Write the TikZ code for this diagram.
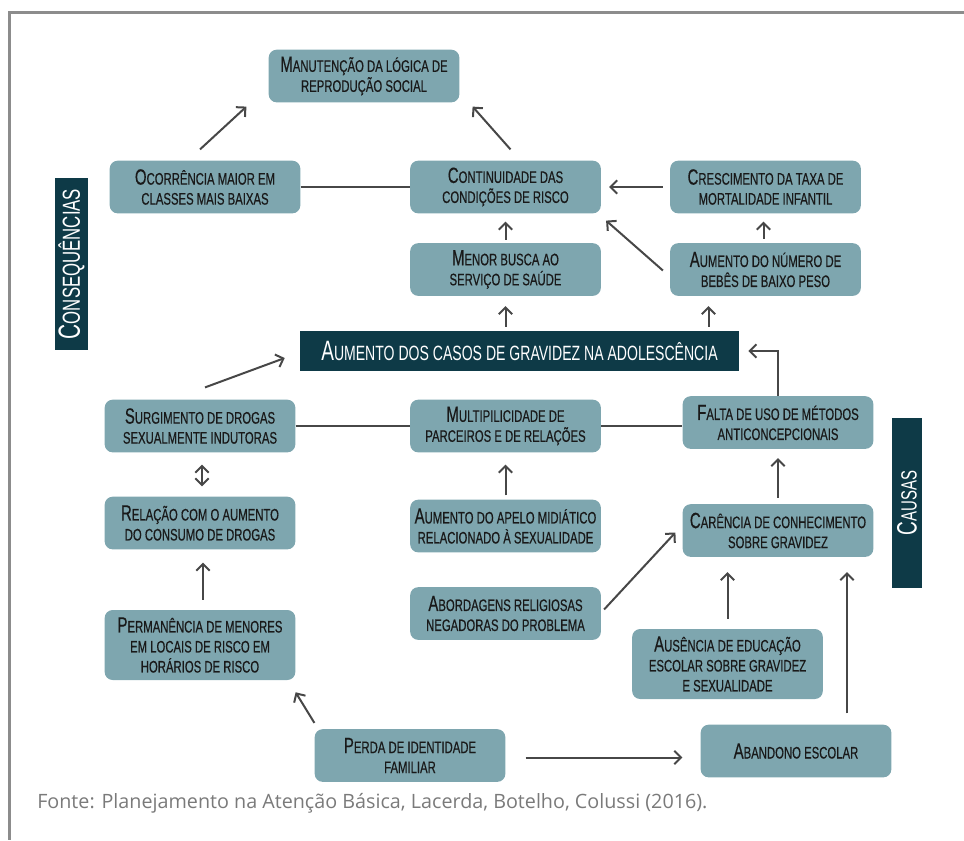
\documentclass[tikz,border=0pt]{standalone}
\usepackage{fontspec}
\usetikzlibrary{arrows.meta,calc}
\newfontfamily\boxfont[FakeStretch=0.68,FakeBold=0.4]{Liberation Sans}
\newfontfamily\darkfont[FakeStretch=0.68]{Liberation Sans}
\newfontfamily\notefont{Open Sans}
\definecolor{boxc}{HTML}{7EA6AF}
\definecolor{darkc}{HTML}{0E3A47}
\definecolor{linec}{HTML}{474747}
\definecolor{framec}{HTML}{8C8C8C}
\definecolor{notec}{HTML}{7A7A7A}
\newcommand\bc[1]{{\fontsize{16.5}{15}\selectfont #1}}
\newcommand\bbc[1]{{\fontsize{21}{21}\selectfont #1}}
\newcommand\cbc[1]{{\fontsize{23}{23}\selectfont #1}}
\begin{document}
\begin{tikzpicture}[x=0.75pt,y=-0.75pt,
  box/.style={rectangle,rounded corners=6pt,fill=boxc,inner sep=0pt,minimum width=143pt,minimum height=39.5pt,align=center,text=black!90,font=\boxfont\fontsize{12.5}{15}\selectfont},
  tall/.style={box,minimum height=52.5pt},
  darkbox/.style={rectangle,fill=darkc,text=white,inner sep=0pt,align=center},
  arr/.style={draw=linec,line width=1.5pt,-{Straight Barb[length=5pt,width=10pt]}},
  arrtwo/.style={draw=linec,line width=1.5pt,{Straight Barb[length=5pt,width=10pt]}-{Straight Barb[length=5pt,width=10pt]}},
  link/.style={draw=linec,line width=1.5pt}]
\useasboundingbox (0,0) rectangle (964,840);
\draw[framec,line width=2.25pt] (964,12) -- (9,12) -- (9,840);

% nodes
\node[box] (man) at (364,76) {\bc{M}ANUTENÇÃO DA LÓGICA DE\\REPRODUÇÃO SOCIAL};
\node[box] (ocr) at (205,187) {\bc{O}CORRÊNCIA MAIOR EM\\CLASSES MAIS BAIXAS};
\node[box] (con) at (505.5,187) {\bc{C}ONTINUIDADE DAS\\CONDIÇÕES DE RISCO};
\node[box] (cre) at (765.5,187) {\bc{C}RESCIMENTO DA TAXA DE\\MORTALIDADE INFANTIL};
\node[box] (men) at (505.5,269.5) {\bc{M}ENOR BUSCA AO\\SERVIÇO DE SAÚDE};
\node[box] (beb) at (765.5,269.5) {\bc{A}UMENTO DO NÚMERO DE\\BEBÊS DE BAIXO PESO};
\node[darkbox,minimum width=329.25pt,minimum height=30pt,font=\darkfont\fontsize{15.5}{18}\selectfont] (aum) at (519.5,351) {\bbc{A}UMENTO DOS CASOS DE GRAVIDEZ NA ADOLESCÊNCIA};
\node[box] (sur) at (200,426) {\bc{S}URGIMENTO DE DROGAS\\SEXUALMENTE INDUTORAS};
\node[box] (mul) at (505.5,426) {\bc{M}ULTIPILICIDADE DE\\PARCEIROS E DE RELAÇÕES};
\node[box] (fal) at (778,422.5) {\bc{F}ALTA DE USO DE MÉTODOS\\ANTICONCEPCIONAIS};
\node[box] (rel) at (200,523) {\bc{R}ELAÇÃO COM O AUMENTO\\DO CONSUMO DE DROGAS};
\node[box] (ape) at (505.5,526) {\bc{A}UMENTO DO APELO MIDIÁTICO\\RELACIONADO À SEXUALIDADE};
\node[box] (car) at (778,530.5) {\bc{C}ARÊNCIA DE CONHECIMENTO\\SOBRE GRAVIDEZ};
\node[box] (abo) at (505.5,613.5) {\bc{A}BORDAGENS RELIGIOSAS\\NEGADORAS DO PROBLEMA};
\node[tall] (per) at (200,645) {\bc{P}ERMANÊNCIA DE MENORES\\EM LOCAIS DE RISCO EM\\HORÁRIOS DE RISCO};
\node[tall] (aus) at (727.5,664) {\bc{A}USÊNCIA DE EDUCAÇÃO\\ESCOLAR SOBRE GRAVIDEZ\\E SEXUALIDADE};
\node[box] (pda) at (410,755.5) {\bc{P}ERDA DE IDENTIDADE\\FAMILIAR};
\node[box] (aba) at (796,751) {\bc{A}BANDONO ESCOLAR};

\node[darkbox,rotate=90,minimum width=129pt,minimum height=24.75pt,font=\darkfont\fontsize{18.5}{18}\selectfont] (cons) at (71.5,264) {\cbc{C}ONSEQUÊNCIAS};
\node[darkbox,rotate=90,minimum width=127.5pt,minimum height=22.5pt,font=\darkfont\fontsize{16.5}{18}\selectfont] (caus) at (907,503) {\bbc{C}AUSAS};

\node[anchor=west,inner sep=0pt,text=notec,font=\notefont\fontsize{14.8}{16}\selectfont] (fonte) at (37,803) {Fonte: Planejamento na Atenção Básica, Lacerda, Botelho, Colussi (2016).};

% connectors
\draw[arr] ($(ocr.north)+(-5,-11)$) -- ($(man.south west)+(-22,4)$);
\draw[arr] ($(con.north)+(5,-11)$) -- ($(man.south east)+(13,4)$);
\draw[link] (ocr.east) -- (con.west);
\draw[arr] ($(cre.west)+(-7,0)$) -- ($(con.east)+(8,0)$);
\draw[arr] ($(men.north)+(0,-3)$) -- ($(con.south)+(0,8)$);
\draw[arr] ($(beb.west)+(-7,1)$) -- ($(con.south east)+(5,7)$);
\draw[arr] ($(beb.north)+(-2,-4)$) -- ($(cre.south)+(-2,8)$);
\draw[arr] ($(men.south |- aum.north)+(0,-4)$) -- ($(men.south)+(0,10)$);
\draw[arr] ($(beb.south |- aum.north)+(-57,-4)$) -- ($(beb.south)+(-57,10)$);
\draw[arr] ($(sur.north)+(5,-12)$) -- ($(aum.west)+(-15,7)$);
\draw[link] (sur.east) -- (mul.west);
\draw[link] (mul.east) -- (mul.east -| fal.west);
\draw[arr] (fal.north) |- ($(aum.east)+(9,0)$);
\draw[arrtwo] ($(sur.south)+(2,12)$) -- ($(rel.north)+(2,-10)$);
\draw[arr] ($(per.north)+(3,-10)$) -- ($(rel.south)+(3,13)$);
\draw[arr] ($(ape.north)+(0,-4)$) -- ($(mul.south)+(0,12)$);
\draw[arr] ($(car.north)+(0,-6)$) -- ($(fal.south)+(0,9)$);
\draw[arr] ($(abo.east)+(3,-4)$) -- ($(car.west)+(-7,2)$);
\draw[arr] ($(aus.north)+(0,-10)$) -- ($(aus.north |- car.south)+(0,15)$);
\draw[arr] ($(aba.north)+(51,-11)$) -- ($(aba.north |- car.south)+(51,15)$);
\draw[arr] ($(pda.north west)+(0,-6)$) -- ($(per.south east)+(0,12)$);
\draw[arr] ($(pda.east)+(20,2)$) -- ($(pda.east -| aba.west)+(-18,2)$);
\end{tikzpicture}
\end{document}
